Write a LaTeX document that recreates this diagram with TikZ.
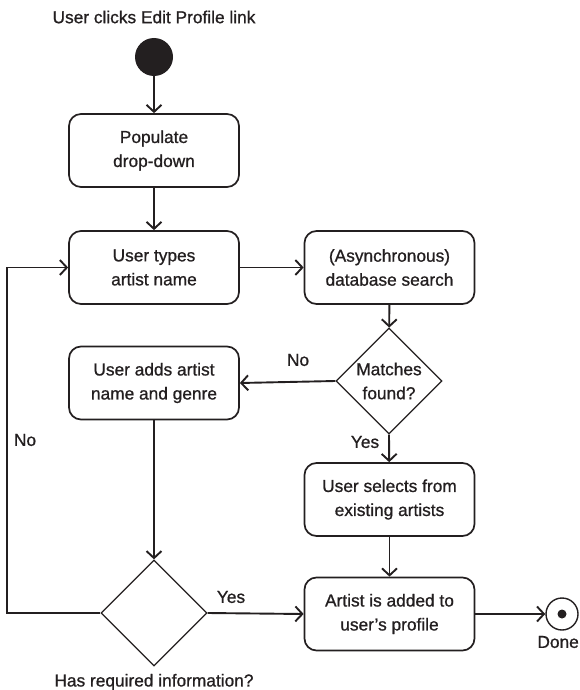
\documentclass[tikz,border=0pt]{standalone}
\usepackage{fontspec}
\setmainfont{Liberation Sans}[UprightFeatures={FakeBold=0.9}]
\usetikzlibrary{arrows.meta,shapes.geometric}
\definecolor{ink}{HTML}{231F20}
\begin{document}
\begin{tikzpicture}[x=1pt,y=-1pt,
  txt/.style={font=\fontsize{17.3}{24}\selectfont, text=ink, align=center, inner sep=0pt},
  activity/.style={txt, draw=ink, line width=1.7pt, rounded corners=12pt,
    minimum width=170pt, minimum height=73pt},
  decision/.style={draw=ink, line width=1.3pt, diamond, inner sep=0pt,
    minimum width=106pt, minimum height=106pt},
  conn/.style={draw=ink, line width=1.9pt,
    -{Straight Barb[length=7pt,width=15pt,line width=1.9pt]}}]
\useasboundingbox (0,0) rectangle (580,690);

% start / end
\node[txt] (title) at (154,17) {User clicks Edit Profile link};
\node[circle, fill=ink, minimum size=38pt, inner sep=0pt] (start) at (154,57) {};
\node[circle, draw=ink, line width=1.4pt, minimum size=32pt, inner sep=0pt] (end) at (562,614) {};
\node[circle, fill=ink, minimum size=9pt, inner sep=0pt] (enddot) at (end) {};
\node[txt, anchor=east] (donelbl) at (579,642) {Done};

% activities
\node[activity] (pop) at (154,150.5) {Populate\\drop-down};
\node[activity] (types) at (154,267.5) {User types\\artist name};
\node[activity] (search) at (389.5,267.5) {(Asynchronous)\\database search};
\node[activity] (adds) at (154,383) {User adds artist\\name and genre};
\node[activity] (selects) at (389.5,499.5) {User selects from\\existing artists};
\node[activity] (added) at (389.5,614) {Artist is added to\\user’s profile};

% decisions
\node[decision] (match) at (389,381) {};
\node[txt] (matchtxt) at (match) {Matches\\found?};
\node[decision] (req) at (154,613) {};
\node[txt] (reqtxt) at (154,682) {Has required information?};

% connectors
\draw[conn] (start) -- (pop);
\draw[conn] (pop) -- (types);
\draw[conn] (types) -- (search);
\draw[conn] (search) -- (match);
\draw[conn] (match.west) -- (adds.east);
\draw[conn] (match.south) -- (selects);
\draw[conn] (adds) -- (req.north);
\draw[conn] (selects) -- (added);
\draw[conn] (req.east) -- (added.west);
\draw[conn] (added) -- (end);
\coordinate (loopbot) at (7,613);
\coordinate (looptop) at (7,267.5);
\draw[conn] (req.west) -- (loopbot) -- (looptop) -- (types.west);

% branch labels
\node[txt] (nomatch) at (298,360) {No};
\node[txt] (yesmatch) at (365,442) {Yes};
\node[txt] (noreq) at (25,440) {No};
\node[txt] (yesreq) at (231,597) {Yes};
\end{tikzpicture}
\end{document}
